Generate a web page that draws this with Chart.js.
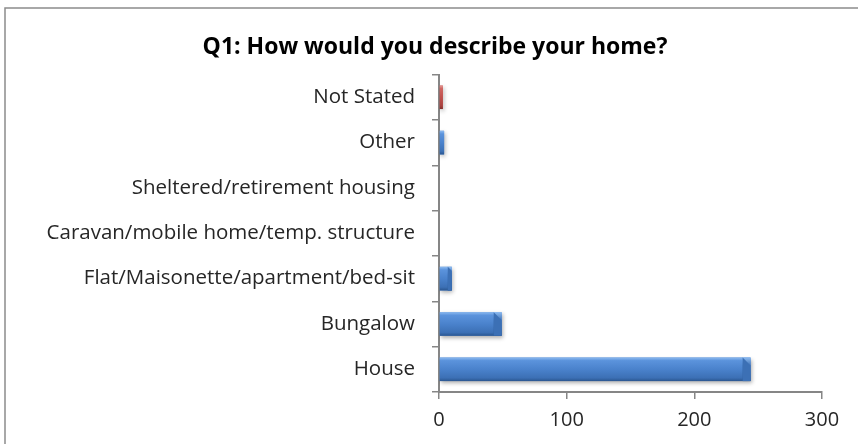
<!DOCTYPE html>
<html>
<head>
<meta charset="utf-8">
<script src="https://cdn.jsdelivr.net/npm/chart.js@4"></script>
<style>
  html, body { margin: 0; padding: 0; background: #fff; }
  #wrap { width: 858px; height: 444px; position: relative; }
</style>
</head>
<body>
<div id="wrap"><canvas id="c" width="858" height="444"></canvas></div>
<script>
// Survey answers, listed top to bottom as they appear on the chart
const categories = [
  'Not Stated',
  'Other',
  'Sheltered/retirement housing',
  'Caravan/mobile home/temp. structure',
  'Flat/Maisonette/apartment/bed-sit',
  'Bungalow',
  'House'
];
const responses = [3, 4, 0, 0, 10, 49, 244];
const xTicks = [0, 100, 200, 300];

const titleText = 'Q1: How would you describe your home?';
const fontFamily = '"Open Sans", "Liberation Sans", Arial, sans-serif';
const axisGrey = '#868686';

// Bar fills: "Not Stated" in red, the rest in blue
const palettes = categories.map(c => c === 'Not Stated'
  ? { hi: '#e59a97', light: '#d06662', mid: '#c0504d', low: '#a8423f', dark: '#7e2f2c' }
  : { hi: '#8cbaf0', light: '#5b93dc', mid: '#4a82cc', low: '#3c70b5', dark: '#2a5690' });

// Frame around the chart, soft bar shadows and bevelled shading on each bar
const framePlugin = {
  id: 'frame',
  beforeDraw(chart) {
    const c = chart.ctx;
    c.save();
    c.fillStyle = '#fff';
    c.fillRect(0, 0, chart.width, chart.height);
    c.strokeStyle = '#8c8c8c';
    c.lineWidth = 1.5;
    c.strokeRect(5, 8, chart.width + 20, chart.height + 20);
    c.restore();
  },
  beforeDatasetsDraw(chart) {
    const c = chart.ctx;
    c.save();
    c.shadowColor = 'rgba(0,0,0,0.32)';
    c.shadowBlur = 4;
    c.shadowOffsetX = 1;
    c.shadowOffsetY = 2;
  },
  afterDatasetsDraw(chart) {
    const c = chart.ctx;
    c.restore();
    const meta = chart.getDatasetMeta(0);
    meta.data.forEach((bar, i) => {
      const { x, y, base, height } = bar.getProps(['x', 'y', 'base', 'height'], true);
      const w = x - base;
      if (w < 0.5) return;
      const p = palettes[i];
      const top = y - height / 2, bot = y + height / 2;
      c.save();
      // body: light top edge fading to a darker lower edge
      const g = c.createLinearGradient(0, top, 0, bot);
      g.addColorStop(0, p.hi);
      g.addColorStop(0.13, p.light);
      g.addColorStop(0.5, p.mid);
      g.addColorStop(0.86, p.low);
      g.addColorStop(1, p.dark);
      c.fillStyle = g;
      c.fillRect(base, top, w, height);
      // slanted facet at the bar end
      const b = Math.min(9, w / 3, height / 3);
      if (w > 6) {
        const f = c.createLinearGradient(0, top, 0, bot);
        f.addColorStop(0, p.hi);
        f.addColorStop(0.35, p.low);
        f.addColorStop(1, p.dark);
        c.fillStyle = f;
        c.beginPath();
        c.moveTo(x - b, top); c.lineTo(x, top); c.lineTo(x, bot); c.lineTo(x - b, bot);
        c.closePath(); c.fill();
        c.fillStyle = p.low;
        c.beginPath();
        c.moveTo(x - b, top); c.lineTo(x, top + b); c.lineTo(x, bot); c.lineTo(x - b, bot);
        c.closePath(); c.fill();
      }
      c.restore();
    });
  }
};

new Chart(document.getElementById('c'), {
  type: 'bar',
  data: {
    labels: categories,
    datasets: [{
      data: responses,
      backgroundColor: palettes.map(p => p.mid),
      borderWidth: 0,
      barPercentage: 0.52,
      categoryPercentage: 1
    }]
  },
  options: {
    indexAxis: 'y',
    responsive: false,
    animation: false,
    devicePixelRatio: 1,
    layout: { padding: { left: 12, right: 0, top: 0, bottom: 0 } },
    plugins: {
      legend: { display: false },
      tooltip: { enabled: false },
      title: {
        display: true,
        text: titleText,
        color: '#000',
        font: { family: fontFamily, size: 23, weight: 'bold', lineHeight: 1.2 },
        padding: { top: 34, bottom: 13 }
      }
    },
    scales: {
      y: {
        type: 'category',
        offset: true,
        grid: {
          offset: true,
          drawOnChartArea: false,
          drawTicks: true,
          tickLength: 7,
          color: axisGrey,
          lineWidth: 1.5
        },
        border: { display: true, color: axisGrey, width: 2 },
        ticks: {
          color: '#262626',
          padding: 17,
          autoSkip: false,
          font: { family: fontFamily, size: 20.5 }
        },
        afterFit(scale) { scale.width = 427; }
      },
      x: {
        type: 'linear',
        min: 0,
        max: 300,
        afterBuildTicks(scale) { scale.ticks = xTicks.map(v => ({ value: v })); },
        grid: {
          drawOnChartArea: false,
          drawTicks: true,
          tickLength: 7,
          color: axisGrey,
          lineWidth: 1.5
        },
        border: { display: true, color: axisGrey, width: 2 },
        ticks: {
          color: '#262626',
          padding: 9,
          font: { family: fontFamily, size: 20 }
        },
        afterFit(scale) {
          scale.height = 52;
          scale.paddingRight = 36;
        }
      }
    }
  },
  plugins: [framePlugin]
});
</script>
</body>
</html>
